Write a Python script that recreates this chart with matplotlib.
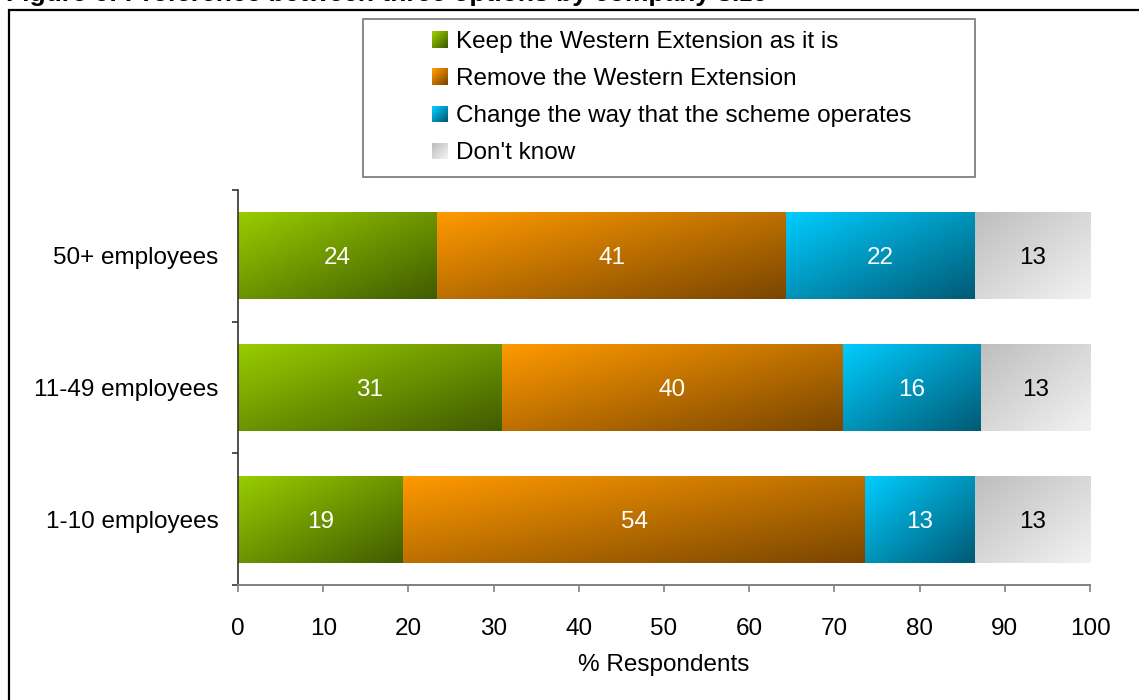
import numpy as np
import matplotlib
matplotlib.use("Agg")
import matplotlib.pyplot as plt
from matplotlib.patches import Rectangle, Patch
from matplotlib.legend_handler import HandlerBase
from matplotlib.colors import to_rgb

# categories listed bottom to top (as drawn on the y axis)
categories = ["1-10 employees", "11-49 employees", "50+ employees"]

series_names = [
    "Keep the Western Extension as it is",
    "Remove the Western Extension",
    "Change the way that the scheme operates",
    "Don't know",
]

# % respondents
keep = [19.4, 31.0, 23.4]
remove = [54.2, 40.0, 40.9]
change = [12.9, 16.2, 22.2]
dont_know = [13.5, 12.8, 13.5]

# the numbers printed inside the bars
keep_lbl = [19, 31, 24]
remove_lbl = [54, 40, 41]
change_lbl = [13, 16, 22]
dont_know_lbl = [13, 13, 13]

# gradient (top-left colour, bottom-right colour) for each series
gradients = [
    ("#99CC00", "#3F5C00"),
    ("#FF9900", "#7A4600"),
    ("#00CCFF", "#005A75"),
    ("#BEBEBE", "#F2F2F2"),
]
text_colors = ["white", "white", "white", "black"]

FONT = "Liberation Sans"
FS = 17.5
plt.rcParams["font.family"] = [FONT, "DejaVu Sans"]


def gradient_fill(ax, patch, c0, c1, n=64):
    # paint a diagonal gradient over a bar rectangle
    x0, y0 = patch.get_x(), patch.get_y()
    w, h = patch.get_width(), patch.get_height()
    u = np.linspace(0, 1, n)[None, :]
    v = np.linspace(0, 1, n)[:, None]
    t = (u + v) / 2
    a, b = np.array(to_rgb(c0)), np.array(to_rgb(c1))
    img = (1 - t)[..., None] * a + t[..., None] * b
    ax.imshow(img, extent=(x0, x0 + w, y0, y0 + h), origin="upper",
              aspect="auto", interpolation="bilinear", zorder=2)


class GradientSquare(HandlerBase):
    '''
    Legend handle: a small square with the same diagonal gradient,
    pushed to the right end of the handle area.
    '''
    def __init__(self, c0, c1):
        super().__init__()
        self.c0 = np.array(to_rgb(c0))
        self.c1 = np.array(to_rgb(c1))

    def create_artists(self, legend, orig_handle, xdescent, ydescent,
                       width, height, fontsize, trans):
        size = height
        x0 = -xdescent + width - size
        y0 = -ydescent
        n = 8
        step = size / n
        arts = []
        for i in range(n):
            for j in range(n):
                t = (j + (n - 1 - i)) / (2 * n - 2)
                col = (1 - t) * self.c0 + t * self.c1
                arts.append(Rectangle((x0 + j * step, y0 + i * step), step * 1.02, step * 1.02,
                                      facecolor=col, edgecolor="none", linewidth=0,
                                      antialiased=False, transform=trans))
        return arts


fig = plt.figure(figsize=(11.39, 7.0), dpi=100)
ax = fig.add_axes([238 / 1139, 1 - 585 / 700, (1090 - 238) / 1139, (585 - 190) / 700])

ypos = np.arange(len(categories))
all_vals = [keep, remove, change, dont_know]
all_lbls = [keep_lbl, remove_lbl, change_lbl, dont_know_lbl]

left = np.zeros(len(categories))
for vals, lbls, (c0, c1), tc in zip(all_vals, all_lbls, gradients, text_colors):
    bars = ax.barh(ypos, vals, left=left, height=0.66, color="none", edgecolor="none")
    for bar, lb in zip(bars, lbls):
        gradient_fill(ax, bar, c0, c1)
        ax.text(bar.get_x() + bar.get_width() / 2, bar.get_y() + bar.get_height() / 2,
                str(lb), ha="center", va="center_baseline", color=tc, fontsize=FS, zorder=3)
    left = left + np.array(vals)

ax.set_xlim(0, 100)
ax.set_ylim(-0.5, 2.5)
ax.set_xticks(np.arange(0, 101, 10))
ax.tick_params(axis="x", labelsize=FS, length=5, width=1.2, color="#808080", pad=19)

# tick marks sit between the bars, labels at the bar centres
ax.set_yticks([-0.5, 0.5, 1.5, 2.5])
ax.set_yticklabels([])
ax.tick_params(axis="y", which="major", length=4, width=1.2, color="#333333")
ax.set_yticks(ypos, minor=True)
ax.set_yticklabels(categories, minor=True)
ax.tick_params(axis="y", which="minor", length=0, labelsize=FS, pad=14)
for lab in ax.get_yticklabels(minor=True):
    lab.set_verticalalignment("center_baseline")

ax.set_xlabel("% Respondents", fontsize=FS, labelpad=10)

ax.spines["top"].set_visible(False)
ax.spines["right"].set_visible(False)
ax.spines["left"].set_color("#333333")
ax.spines["left"].set_linewidth(1.2)
ax.spines["bottom"].set_color("#808080")
ax.spines["bottom"].set_linewidth(1.4)

# legend
handles = [Patch(label=name) for name in series_names]
hmap = {h: GradientSquare(c0, c1) for h, (c0, c1) in zip(handles, gradients)}
leg = fig.legend(handles=handles, handler_map=hmap, loc="upper left",
                 bbox_to_anchor=(363 / 1139, 1 - 177 / 700, (975 - 363) / 1139, (177 - 19) / 700),
                 bbox_transform=fig.transFigure, mode="expand", ncols=1,
                 fontsize=FS, handlelength=3.0, handleheight=0.66, handletextpad=0.32,
                 borderpad=0.5, labelspacing=0.62, borderaxespad=0,
                 fancybox=False, framealpha=1, edgecolor="#808080")
leg.get_frame().set_linewidth(1.3)

# outer frame of the figure, partly running off the image
fig.patches.append(Rectangle((9 / 1139, -0.02), 1.05, 1 - 10 / 700 + 0.02,
                             transform=fig.transFigure, fill=False,
                             edgecolor="black", linewidth=1.6, clip_on=False))

# title, mostly cut off at the top edge
fig.text(6 / 1139, 1 - 1.5 / 700, "Figure 6: Preference between three options by company size",
         fontsize=19, fontweight="bold", ha="left", va="baseline")

fig.savefig("out.png", dpi=100)
